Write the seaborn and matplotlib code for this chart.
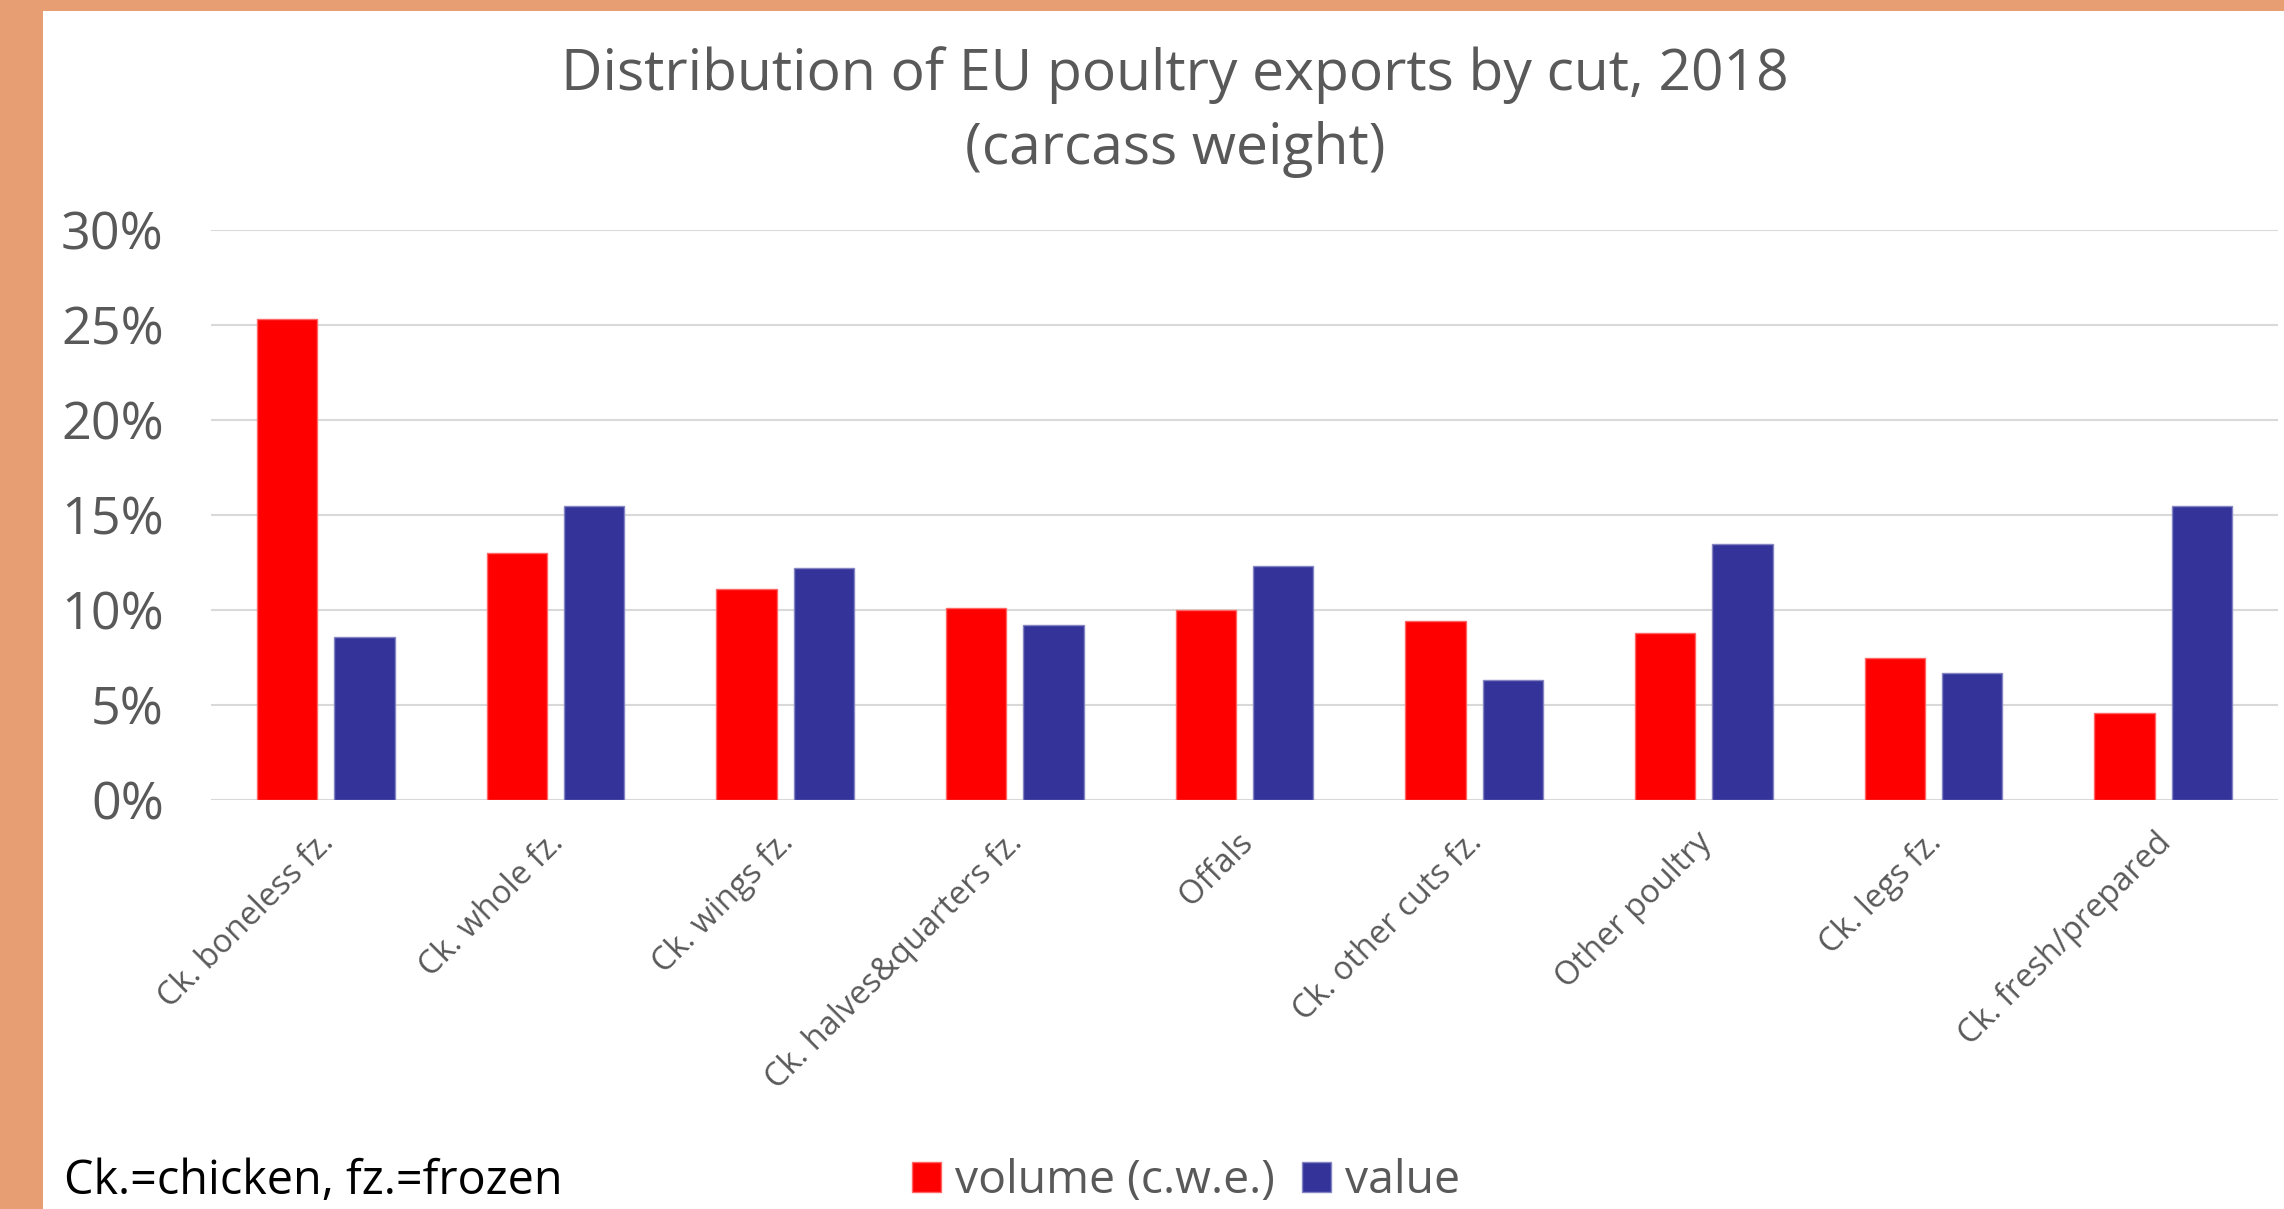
import matplotlib
matplotlib.use("Agg")
import matplotlib.pyplot as plt
from matplotlib.patches import Rectangle
from matplotlib.ticker import PercentFormatter, MultipleLocator
from matplotlib.transforms import ScaledTranslation
import seaborn as sns
import pandas as pd

# Share of EU poultry exports by cut, 2018 (%)
cuts = [
    "Ck. boneless fz.",
    "Ck. whole fz.",
    "Ck. wings fz.",
    "Ck. halves&quarters fz.",
    "Offals",
    "Ck. other cuts fz.",
    "Other poultry",
    "Ck. legs fz.",
    "Ck. fresh/prepared",
]
volume = [25.3, 13.0, 11.1, 10.1, 10.0, 9.4, 8.8, 7.5, 4.6]
value = [8.6, 15.5, 12.2, 9.2, 12.3, 6.3, 13.5, 6.7, 15.5]
series_names = ["volume (c.w.e.)", "value"]

df = pd.DataFrame({
    "cut": cuts * 2,
    "share": volume + value,
    "series": [series_names[0]] * len(cuts) + [series_names[1]] * len(cuts),
})

RED = "#FF0000"
BLUE = "#333399"
GREY = "#595959"
GRID = "#D9D9D9"
BORDER = "#E89E73"

sns.set_theme(style="white")
plt.rcParams["font.family"] = ["Open Sans", "DejaVu Sans"]

W, H, DPI = 2284, 1209, 100
fig = plt.figure(figsize=(W / DPI, H / DPI), dpi=DPI)
fig.patch.set_facecolor("white")

# frame of the panel
fig.patches.append(Rectangle((0, 0), 43 / W, 1, transform=fig.transFigure,
                             facecolor=BORDER, edgecolor="none", zorder=0))
fig.patches.append(Rectangle((0, 1 - 11 / H), 1, 11 / H, transform=fig.transFigure,
                             facecolor=BORDER, edgecolor="none", zorder=0))

left, right, top, bottom = 211 / W, 2278 / W, 1 - 230 / H, 1 - 800 / H
ax = fig.add_axes([left, bottom, right - left, top - bottom])

sns.barplot(data=df, x="cut", y="share", hue="series",
            palette=[RED, BLUE], width=0.674, gap=0.22,
            saturation=1, ax=ax, legend=True)

for patch in ax.patches:
    fc = patch.get_facecolor()
    patch.set_edgecolor((fc[0] * 0.6 + 0.4, fc[1] * 0.6 + 0.4, fc[2] * 0.6 + 0.4, 1))
    patch.set_linewidth(1.0)

ax.set_ylim(0, 30)
ax.set_xlim(-0.5, len(cuts) - 0.5)
ax.yaxis.set_major_locator(MultipleLocator(5))
ax.yaxis.set_major_formatter(PercentFormatter(100, decimals=0))
ax.grid(axis="y", color=GRID, linewidth=1.5)
ax.grid(axis="x", visible=False)
ax.set_axisbelow(True)
for s in ax.spines.values():
    s.set_visible(False)
ax.set_xlabel("")
ax.set_ylabel("")
ax.tick_params(axis="y", length=0, pad=34, labelsize=37.5, labelcolor=GREY)
ax.tick_params(axis="x", length=0, pad=19, labelsize=23.5, labelcolor=GREY)
shift = ScaledTranslation(15 / DPI, 0, fig.dpi_scale_trans)
for lbl in ax.get_xticklabels():
    lbl.set_rotation(45)
    lbl.set_ha("right")
    lbl.set_transform(lbl.get_transform() + shift)

# legend moved to the figure bottom
handles, labels = ax.get_legend_handles_labels()
ax.get_legend().remove()
leg = fig.legend(handles, labels, loc="center", bbox_to_anchor=(1186 / W, 1 - 1181 / H),
                 ncol=2, frameon=False, fontsize=33.3, handlelength=0.62, handleheight=0.62,
                 handletextpad=0.3, columnspacing=0.6, borderaxespad=0)
for t in leg.get_texts():
    t.set_color(GREY)

fig.text(64 / W, 1 - 1181 / H, "Ck.=chicken, fz.=frozen", ha="left", va="center",
         fontsize=33.7, color="black")

fig.text(1175 / W, 1 - 112 / H,
         "Distribution of EU poultry exports by cut, 2018\n(carcass weight)",
         ha="center", va="center", fontsize=41, color=GREY, linespacing=1.38)

fig.savefig("out.png", dpi=DPI, facecolor="white")
